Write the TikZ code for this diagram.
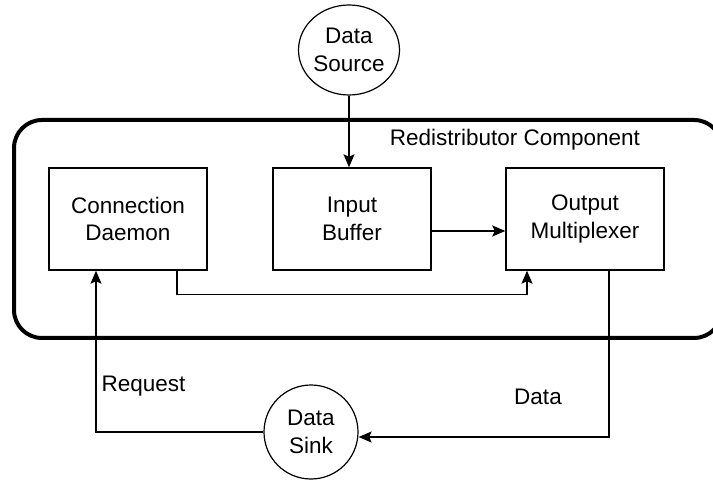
\documentclass[tikz,border=0pt]{standalone}
\usepackage{fontspec}
\setmainfont{Liberation Sans}
\usetikzlibrary{arrows.meta,shapes.geometric}
\tikzset{
  every node/.style={font=\fontsize{22.5}{27.5}\selectfont, align=center},
  block/.style={draw, line width=1.4pt, minimum width=158pt, minimum height=102pt, inner sep=0pt},
  blob/.style={draw, line width=1.2pt, inner sep=0pt},
  link/.style={line width=1.4pt, -{Stealth[length=13pt,width=11pt,inset=2.5pt]}},
  wire/.style={line width=1.4pt},
  frame/.style={line width=4pt, rounded corners=28pt}
}
\begin{document}
\begin{tikzpicture}[x=1pt,y=-1pt]
  \useasboundingbox (0,0) rectangle (713,481);
  \fill[white] (0,0) rectangle (713,481);

  % enclosing component frame (runs past the right edge)
  \draw[frame] (14,120) rectangle (722,338);
  \node (title) at (515,140) {Redistributor Component};

  % the three internal blocks
  \node[block] (cd) at (128,219) {Connection\\Daemon};
  \node[block] (ib) at (352,219) {Input\\Buffer};
  \node[block] (om) at (585,219) {Output\\Multiplexer};

  % external source and sink
  \node[blob, ellipse, minimum width=101pt, minimum height=90pt] (src) at (349,50) {Data\\Source};
  \node[blob, circle, minimum size=94pt] (sink) at (311,432) {Data\\Sink};

  % flows
  \draw[link] (src.south) -- (src.south |- ib.north);
  \draw[link] ([yshift=-12pt]ib.east) -- ([yshift=-12pt]ib.east -| om.west);
  \draw[link] ([xshift=49pt]cd.south) -- ++(0,24) -| ([xshift=-58pt]om.south);
  \draw[link] ([xshift=24pt]om.south) |- ([yshift=-5pt]sink.east);
  \draw[link] (sink.west) -| ([xshift=-32pt]cd.south);

  % flow labels
  \node[anchor=west] (req) at (98,386) {Request};
  \node (dat) at (538,397) {Data};
\end{tikzpicture}
\end{document}
